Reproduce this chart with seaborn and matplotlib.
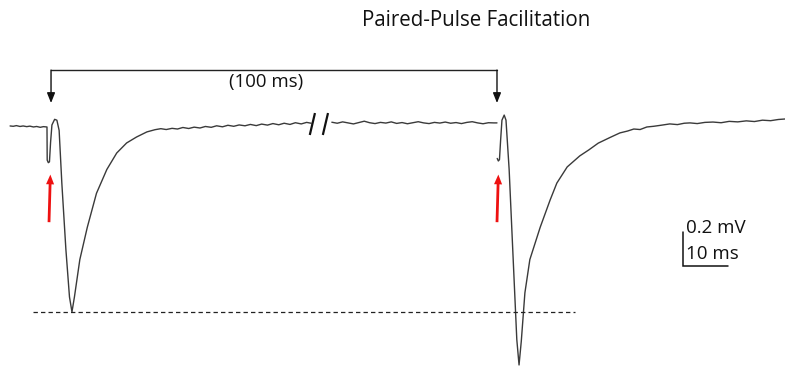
import numpy as np
import pandas as pd
import matplotlib
matplotlib.use("Agg")
import matplotlib.pyplot as plt
import seaborn as sns

sns.set_theme(style="white")
plt.rcParams["font.family"] = ["Open Sans", "DejaVu Sans"]

# ---- field potential recording (time in ms, voltage in mV) ----
# first sweep: pre-stimulus baseline, stimulus artefact, first fEPSP and recovery
t_sweep1 = [-8.2, -7.5, -6.8, -6.0, -5.3, -4.5, -3.8, -3.0, -2.3, -1.5, -0.8, 0.0,
            0.05, 0.3, 0.55, 0.8, 1.1, 1.7, 2.2, 2.7, 3.3, 4.2, 5.0, 5.55, 6.1, 7.3,
            8.96, 11.0, 13.3, 15.5, 17.7, 19.9, 22.2, 24.0, 25.3, 26.5, 27.8, 29.0,
            30.2, 31.5, 32.7, 34.0, 35.2, 36.5, 37.7, 39.0, 40.2, 41.5, 42.7, 44.0,
            45.2, 46.5, 47.7, 49.0, 50.2, 51.5, 52.7, 54.0, 55.2, 56.5, 57.7, 58.7]
v_sweep1 = [0.006, 0.004, 0.008, 0.003, 0.006, 0.002, 0.005, 0.000, 0.003, -0.002, 0.002, 0.000,
            -0.195, -0.210, -0.205, -0.090, 0.012, 0.045, 0.040, -0.020, -0.330, -0.720,
            -1.000, -1.088, -1.000, -0.780, -0.590, -0.390, -0.250, -0.153, -0.094, -0.059,
            -0.029, -0.016, -0.010, -0.015, -0.008, -0.012, -0.003, -0.009, -0.001, -0.006,
            0.003, -0.002, 0.007, 0.001, 0.010, 0.004, 0.012, 0.007, 0.015, 0.008, 0.017,
            0.011, 0.020, 0.013, 0.022, 0.015, 0.025, 0.018, 0.027, 0.022]

# baseline between the two stimuli (after the axis break)
t_gap = [63.3, 64.5, 65.7, 66.9, 68.1, 69.3, 70.5, 71.7, 72.9, 74.1, 75.3, 76.5,
         77.7, 78.9, 80.1, 81.3, 82.5, 83.7, 84.9, 86.1, 87.3, 88.5, 89.7, 90.9,
         92.1, 93.3, 94.5, 95.7, 96.9, 98.1, 99.3, 100.0]
v_gap = [0.028, 0.022, 0.030, 0.024, 0.018, 0.026, 0.034, 0.025, 0.020, 0.027,
         0.023, 0.030, 0.021, 0.026, 0.019, 0.025, 0.031, 0.024, 0.020, 0.027,
         0.023, 0.029, 0.022, 0.026, 0.020, 0.027, 0.031, 0.024, 0.019, 0.025,
         0.024, 0.024]

# second sweep: second stimulus, facilitated fEPSP and recovery
t_sweep2 = [100.05, 100.3, 100.55, 100.8, 101.1, 101.6, 102.0, 102.7, 103.6, 104.4,
            104.9, 105.4, 106.2, 107.3, 109.6, 111.8, 113.3, 115.6, 118.4, 120.4,
            122.5, 125.1, 127.3, 129.0, 130.4, 131.8, 133.3, 134.8, 136.4, 138.4,
            140.1, 141.6, 142.9, 144.5, 146.2, 148.0, 149.8, 151.6, 153.5, 155.4,
            157.2, 159.0, 160.8, 162.5, 164.0]
v_sweep2 = [-0.185, -0.200, -0.192, -0.080, 0.040, 0.070, 0.040, -0.250, -0.780, -1.250,
            -1.400, -1.260, -0.976, -0.780, -0.590, -0.430, -0.330, -0.235, -0.170, -0.135,
            -0.095, -0.062, -0.035, -0.024, -0.012, -0.015, 0.000, 0.004, 0.010, 0.018,
            0.014, 0.022, 0.024, 0.020, 0.027, 0.029, 0.025, 0.033, 0.030, 0.036,
            0.032, 0.040, 0.037, 0.044, 0.047]

stim_marks = [0.9, 100.0]             # bracket arrows at the two stimuli
stim_arrows = [0.55, 100.1]           # red stimulation arrows
interval_label = "(100 ms)"
scalebar_mv = 0.2
scalebar_ms = 10

trace_color = "#3a3a3a"

fig = plt.figure(figsize=(7.85, 3.67), dpi=100)
ax = fig.add_axes([0, 0, 1, 1])
ax.set_xlim(-10.44, 164.0)
ax.set_ylim(-1.412, 0.747)
ax.axis("off")

segments = [(t_sweep1, v_sweep1), (t_gap, v_gap), (t_sweep2, v_sweep2)]
for ts, vs in segments:
    df = pd.DataFrame({"t": ts, "v": vs})
    sns.lineplot(data=df, x="t", y="v", ax=ax, color=trace_color, lw=1.0,
                 sort=False, estimator=None)

# dashed reference at the peak of the first response
first_peak = min(v_sweep1)
ax.plot([-3.1, 117.3], [first_peak, first_peak], ls=(0, (3.5, 2.5)),
        color="#222222", lw=0.9)

# axis-break marks
for x0 in (58.4, 61.3):
    ax.plot([x0, x0 + 1.15], [-0.047, 0.082], color="#111111", lw=1.6,
            solid_capstyle="butt")

# bracket showing the inter-stimulus interval
bracket_y = 0.335
ax.plot([stim_marks[0], stim_marks[1]], [bracket_y, bracket_y], color="#222222", lw=1.0)
for s in stim_marks:
    ax.annotate("", xy=(s, 0.141), xytext=(s, bracket_y),
                arrowprops=dict(arrowstyle="-|>,head_length=0.5,head_width=0.2",
                                color="#111111", lw=1.0, shrinkA=0, shrinkB=0))
ax.text(48.7, 0.262, interval_label, ha="center", va="center", fontsize=13.4,
        color="#111111")

# red stimulation arrows
for s in stim_arrows:
    ax.annotate("", xy=(s + 0.2, -0.28), xytext=(s - 0.1, -0.56),
                arrowprops=dict(facecolor="#ee1111", edgecolor="none", width=2.0,
                                headwidth=5.8, headlength=7.0, shrink=0))

# scale bar
sx, sy = 141.3, -0.818
ax.plot([sx, sx, sx + scalebar_ms], [sy + scalebar_mv, sy, sy],
        color="#111111", lw=1.1, solid_joinstyle="miter")
ax.text(sx + 0.7, -0.592, f"{scalebar_mv} mV", ha="left", va="center",
        fontsize=13.5, color="#111111")
ax.text(sx + 0.7, -0.745, f"{scalebar_ms} ms", ha="left", va="center",
        fontsize=13.5, color="#111111")

fig.text(476 / 785, 1 - 20 / 367, "Paired-Pulse Facilitation", ha="center",
         va="center", fontsize=14.8, color="#111111")

fig.savefig("out.png", dpi=100, facecolor="white")
